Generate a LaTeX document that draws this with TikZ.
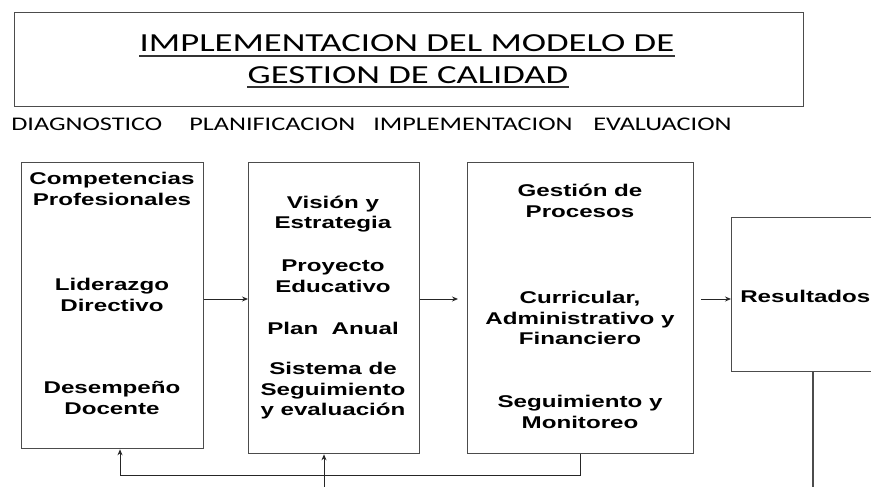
\documentclass[tikz,border=0pt]{standalone}
\usepackage{fontspec}
\setmainfont{Liberation Sans}
\newfontfamily\calfont{Carlito}
\usetikzlibrary{arrows.meta}
\begin{document}
\begin{tikzpicture}[x=1pt,y=-1pt,
  box/.style={draw=black!70, line width=1.3pt, inner sep=0, anchor=north west},
  lbl/.style={font=\bfseries\fontsize{17}{20.5}\selectfont, align=center, xscale=1.42, inner sep=0},
  phase/.style={font=\calfont\fontsize{19.3}{22}\selectfont, xscale=1.36, inner sep=0, anchor=base west},
  ttl/.style={font=\calfont\fontsize{26}{30}\selectfont, xscale=1.41, inner sep=0, anchor=base},
  arr/.style={draw=black!85, line width=0.9pt, -{Stealth[length=6pt,width=5pt]}},
  ln/.style={draw=black!70, line width=1.1pt}]
\useasboundingbox (0,0) rectangle (871,487);
\clip (0,0) rectangle (871,487);
% title
\node[box, minimum width=789, minimum height=94] (title) at (14,12) {};
\node[ttl] (t1) at (407,51.7) {IMPLEMENTACION DEL MODELO DE};
\node[ttl] (t2) at (408,83.3) {GESTION DE CALIDAD};
\draw[line width=1.8pt, black!80] ([yshift=-4pt]t1.base west) -- ([yshift=-4pt]t1.base east);
\draw[line width=1.8pt, black!80] ([yshift=-4pt]t2.base west) -- ([yshift=-4pt]t2.base east);
% phases
\node[phase] (p1) at (11,130.7) {DIAGNOSTICO};
\node[phase] (p2) at (189,130.7) {PLANIFICACION};
\node[phase] (p3) at (373,130.7) {IMPLEMENTACION};
\node[phase] (p4) at (593,130.7) {EVALUACION};
% boxes
\node[box, minimum width=182, minimum height=286] (b1) at (21,162) {};
\node[box, minimum width=171, minimum height=291] (b2) at (248,162) {};
\node[box, minimum width=226, minimum height=291] (b3) at (467,162) {};
\node[box, minimum width=200, minimum height=154] (b4) at (731,217) {};
% box texts
\node[lbl] (c1) at (112,189) {Competencias\\Profesionales};
\node[lbl] (c2) at (112,295) {Liderazgo\\Directivo};
\node[lbl] (c3) at (112,398) {Desempeño\\Docente};
\node[lbl] (d1) at (333,214) {Visión y\\Estrategia};
\node[lbl] (d2) at (333,276) {Proyecto\\Educativo};
\node[lbl] (d3) at (333,328) {Plan~~Anual};
\node[lbl] (d4) at (333,391) {Sistema de\\Seguimiento\\y evaluación};
\node[lbl] (e1) at (580,201) {Gestión de\\Procesos};
\node[lbl] (e2) at (580,318) {Curricular,\\Administrativo y\\Financiero};
\node[lbl] (e3) at (580,412) {Seguimiento y\\Monitoreo};
\node[lbl, anchor=west] (r1) at (740,296) {Resultados};
% connectors
\coordinate (ay) at (0,299);
\draw[arr] (b1.east |- ay) -- (b2.west |- ay);
\draw[arr, shorten >=9pt] (b2.east |- ay) -- (b3.west |- ay);
\draw[arr, shorten <=7pt] (b3.east |- ay) -- (b4.west |- ay);
\coordinate (fb) at (120,475);
\draw[arr] (b3.south) |- (fb) -- (b1.south -| fb);
\coordinate (in2) at (324,487);
\draw[arr] (in2) -- (b2.south -| in2);
\coordinate (out4) at (813,487);
\draw[ln] (b4.south -| out4) -- (out4);
\end{tikzpicture}
\end{document}
